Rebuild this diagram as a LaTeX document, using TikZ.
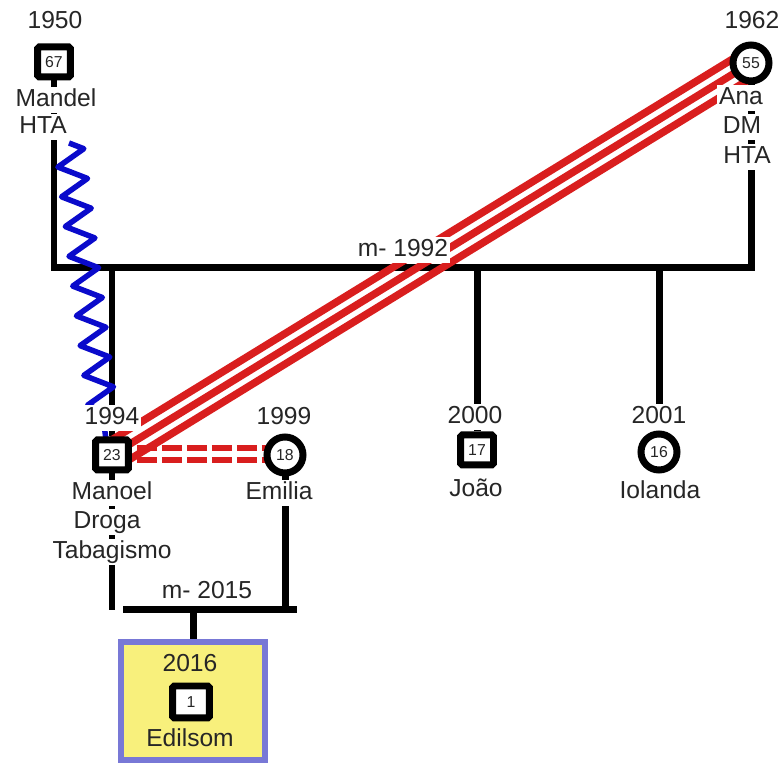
\documentclass[tikz,border=0pt]{standalone}
\usepackage{fontspec}
\setmainfont{Liberation Sans}
\usepackage{tikz}
\usetikzlibrary{calc,backgrounds,decorations.pathmorphing}
\definecolor{inkgray}{HTML}{262626}
\definecolor{conflred}{HTML}{D91E1E}
\definecolor{abuseblue}{HTML}{0A0ACB}
\definecolor{kidfill}{HTML}{F8F07C}
\definecolor{kidedge}{HTML}{7878D6}
\tikzset{
    every node/.style={font=\fontsize{14}{16}\selectfont,text=inkgray},
    male/.style={rectangle,draw=black,line width=0.14cm,fill=white,rounded corners=1pt,minimum width=0.66cm,minimum height=0.6cm,inner sep=0pt,font=\fontsize{9}{10}\selectfont},
    female/.style={circle,draw=black,line width=0.14cm,fill=white,minimum size=0.72cm,inner sep=0pt,font=\fontsize{9}{10}\selectfont},
    lbl/.style={fill=white,inner sep=1pt,text height=10pt,text depth=3pt},
    kidlbl/.style={inner sep=1pt,text height=10pt,text depth=3pt},
    famline/.style={draw=black,line width=0.14cm},
    hostile/.style={draw=conflred,line width=0.15cm},
    distant/.style={draw=conflred,line width=0.12cm,dash pattern=on 0.4cm off 0.1cm},
    abuse/.style={draw=abuseblue,line width=0.11cm,line join=round,decorate,decoration={zigzag,segment length=0.6cm,amplitude=0.28cm}},
    kidbox/.style={draw=kidedge,fill=kidfill,line width=0.12cm,minimum width=2.9cm,minimum height=2.36cm}
}
\begin{document}
\begin{tikzpicture}[x=0.02cm,y=-0.02cm]
\useasboundingbox (0,0) rectangle (782,766);
\node[male] (mandel) at (54,62) {67};
\node[female] (ana) at (751,63) {55};
\node[male] (manoel) at (112,455) {23};
\node[female] (emilia) at (285,455) {18};
\node[male] (joao) at (477,450) {17};
\node[female] (iolanda) at (659,452) {16};
\node[kidbox] (kid) at (193,701) {};
\node[male,minimum width=0.74cm,minimum height=0.64cm] (edilsom) at (191,702) {1};
\coordinate (m1992) at (403,268);
\coordinate (m2015a) at (123,610);
\coordinate (m2015b) at (297,610);
\node[lbl] (mandelyr) at (55,22) {1950};
\node[lbl] (mandelnm) at (56,100) {Mandel};
\node[lbl] (mandeldx) at (43,127) {HTA};
\node[lbl] (anayr) at (752,22) {1962};
\node[lbl] (anunm) at (741,98) {Ana};
\node[lbl] (anadx1) at (742,127) {DM};
\node[lbl] (anadx2) at (747,157) {HTA};
\node[lbl] (mar1992) at (403,250) {m- 1992};
\node[lbl] (manoelyr) at (112,418) {1994};
\node[lbl] (manoelnm) at (112,493) {Manoel};
\node[lbl] (manoeldx1) at (107,522) {Droga};
\node[lbl] (manoeldx2) at (112,552) {Tabagismo};
\node[lbl] (emiliayr) at (284,418) {1999};
\node[lbl] (emilianm) at (279,493) {Emilia};
\node[lbl] (joaoyr) at (475,417) {2000};
\node[lbl] (joaonm) at (476,490) {João};
\node[lbl] (iolandayr) at (659,417) {2001};
\node[lbl] (iolandanm) at (660,492) {Iolanda};
\node[lbl] (mar2015) at (207,592) {m- 2015};
\node[kidlbl] (edilsomyr) at (190,665) {2016};
\node[kidlbl] (edilsomnm) at (190,740) {Edilsom};
\begin{scope}[on background layer]
\draw[famline] (mandel) |- (m1992) -| (ana);
\foreach \kid in {manoel,joao,iolanda}
    \draw[famline] (\kid) -- (\kid |- m1992);
\draw[famline] (manoel) -- (manoel |- m2015a);
\draw[famline] (emilia) -- (emilia |- m2015a);
\draw[famline] (m2015a) -- (m2015b);
\draw[famline] (kid) -- (kid |- m2015a);
\draw[abuse] ($(mandel)+(15,81)$) -- ($(manoel)+(-6,-15)$);
\foreach \dx/\dy in {-6.8/-11.1,0/0,6.8/11.1}
    \draw[hostile] ($(manoel)+(\dx,\dy)$) -- ($(ana)+(\dx,\dy)$);
\foreach \dy in {-7,5}
    \draw[distant] ($(manoel)+(0,\dy)$) -- ($(emilia)+(0,\dy)$);
\end{scope}
\end{tikzpicture}
\end{document}
